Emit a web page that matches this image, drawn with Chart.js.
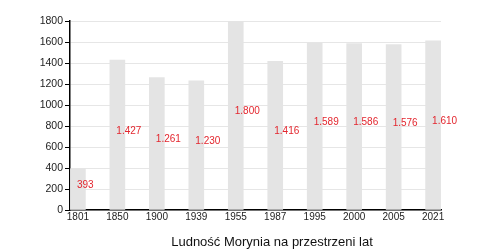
<!DOCTYPE html>
<html>
<head>
<meta charset="UTF-8">
<title>Ludność Morynia</title>
<style>
html, body { margin: 0; padding: 0; background: #fff; }
</style>
</head>
<body>
<canvas id="myChart" width="480" height="250"></canvas>

<script src="https://cdn.jsdelivr.net/npm/chart.js"></script>
<script>
// dane z wykresu
const years = ["1801", "1850", "1900", "1939", "1955", "1987", "1995", "2000", "2005", "2021"];
const population = [393, 1427, 1261, 1230, 1800, 1416, 1589, 1586, 1576, 1610];
const yTicks = [0, 200, 400, 600, 800, 1000, 1200, 1400, 1600, 1800];
const chartTitle = "Ludność Morynia na przestrzeni lat";

const FONT = "'Liberation Sans', Arial, sans-serif";

// 1427 -> "1.427"
function fmt(v) {
  return String(v).replace(/\B(?=(\d{3})+(?!\d))/g, ".");
}

const labelsPlugin = {
  id: "labelsPlugin",
  afterDatasetsDraw(chart) {
    const ctx = chart.ctx;
    const meta = chart.getDatasetMeta(0);
    ctx.save();
    ctx.font = "10px " + FONT;
    ctx.fillStyle = "#e3262e";
    ctx.textAlign = "left";
    ctx.textBaseline = "middle";
    meta.data.forEach((bar, i) => {
      const mid = (bar.y + bar.base) / 2;
      ctx.fillText(fmt(population[i]), bar.x - 1, mid - 4);
    });
    // tytuł pod osią
    ctx.font = "13px " + FONT;
    ctx.fillStyle = "#111";
    ctx.textAlign = "center";
    ctx.fillText(chartTitle, 272, 242);
    ctx.restore();
  }
};

new Chart(document.getElementById("myChart"), {
  type: "bar",
  data: {
    datasets: [{
      data: population.map((v, i) => ({ x: i, y: v })),
      backgroundColor: "#e4e4e4",
      borderWidth: 0,
      barThickness: 15
    }]
  },
  options: {
    responsive: false,
    animation: false,
    layout: { padding: { top: 21, right: 39, bottom: 18, left: 0 } },
    plugins: {
      legend: { display: false },
      tooltip: { enabled: false },
      title: { display: false }
    },
    scales: {
      x: {
        type: "linear",
        offset: false,
        min: -0.2,
        max: 9.2,
        grid: { display: false, drawTicks: false, offset: false },
        border: { color: "#000", width: 1.5 },
        afterBuildTicks: s => { s.ticks = years.map((_, i) => ({ value: i })); },
        afterFit: s => { s.height = 22; },
        ticks: {
          autoSkip: false,
          maxRotation: 0,
          padding: 1,
          color: "#222",
          font: { family: FONT, size: 10 },
          callback: v => years[v]
        }
      },
      y: {
        min: 0,
        max: 1800,
        grid: { color: "#e6e6e6", tickColor: "#000", tickLength: 5 },
        border: { color: "#000", width: 1.5 },
        afterBuildTicks: s => { s.ticks = yTicks.map(v => ({ value: v })); },
        afterFit: s => { s.width = 70; },
        ticks: {
          padding: 2,
          color: "#222",
          font: { family: FONT, size: 10.5 },
          callback: v => String(v)
        }
      }
    }
  },
  plugins: [labelsPlugin]
});
</script>
</body>
</html>
